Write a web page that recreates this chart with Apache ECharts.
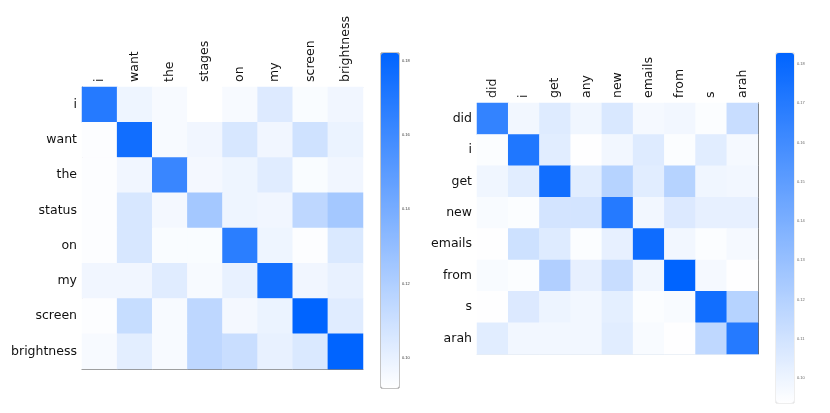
<!DOCTYPE html>
<html>
<head>
<meta charset="utf-8">
<script src="https://cdn.jsdelivr.net/npm/echarts@6/dist/echarts.min.js"></script>
<style>
html,body{margin:0;padding:0;background:#fff;}
#chart{width:830px;height:413px;}
</style>
</head>
<body>
<div id="chart"></div>
<script>
// left sentence: columns / rows
var left_cols = ['i','want','the','stages','on','my','screen','brightness'];
var left_rows = ['i','want','the','status','on','my','screen','brightness'];
var left_values = [
	[0.169,0.098,0.095,0.092,0.095,0.104,0.094,0.097],
	[0.093,0.176,0.095,0.097,0.106,0.097,0.109,0.099],
	[0.093,0.097,0.162,0.096,0.098,0.103,0.094,0.097],
	[0.093,0.106,0.096,0.124,0.098,0.097,0.115,0.124],
	[0.093,0.106,0.094,0.094,0.167,0.098,0.093,0.105],
	[0.097,0.097,0.103,0.095,0.100,0.175,0.097,0.100],
	[0.093,0.112,0.095,0.115,0.096,0.099,0.182,0.103],
	[0.095,0.102,0.095,0.115,0.111,0.100,0.105,0.182]
];
var left_range = [0.092,0.182];
var left_ticks = [0.10,0.12,0.14,0.16,0.18];

// right sentence
var right_cols = ['did','i','get','any','new','emails','from','s','arah'];
var right_rows = ['did','i','get','new','emails','from','s','arah'];
var right_values = [
	[0.165,0.098,0.105,0.099,0.107,0.097,0.098,0.095,0.113],
	[0.095,0.172,0.104,0.094,0.098,0.105,0.095,0.104,0.097],
	[0.099,0.104,0.177,0.104,0.119,0.104,0.119,0.099,0.098],
	[0.096,0.095,0.109,0.109,0.170,0.098,0.106,0.102,0.102],
	[0.094,0.111,0.105,0.095,0.102,0.178,0.098,0.095,0.097],
	[0.096,0.095,0.121,0.102,0.113,0.099,0.183,0.097,0.094],
	[0.094,0.106,0.100,0.098,0.103,0.095,0.096,0.177,0.119],
	[0.104,0.098,0.098,0.098,0.104,0.096,0.094,0.116,0.170]
];
var right_range = [0.0936,0.1828];
var right_ticks = [0.10,0.11,0.12,0.13,0.14,0.15,0.16,0.17,0.18];

var font = 'DejaVu Sans';
var blues = ['#ffffff','#0064ff'];

function to_cells(m){
	var out = [];
	for (var r = 0; r < m.length; r++) {
		for (var c = 0; c < m[r].length; c++) {
			out.push([c, r, m[r][c]]);
		}
	}
	return out;
}

var myChart = echarts.init(document.getElementById('chart'));

var option = {
	animation:false,
	grid:[
		{left:82, top:87, width:281, height:282},
		{left:381, top:53, width:18, height:335, show:true, borderColor:'#888', borderWidth:1},
		{left:477, top:103, width:281, height:251},
		{left:776, top:53, width:18, height:350, show:true, borderColor:'#ddd', borderWidth:1}
	],
	xAxis:[
		{ gridIndex:0, type:'category', position:'top', data:left_cols,
		  axisLine:{lineStyle:{color:'#e3eaf3'}},
		  axisTick:{alignWithLabel:true, length:3, lineStyle:{color:'#999'}},
		  axisLabel:{rotate:-90, fontSize:12.5, color:'#111', fontFamily:font, margin:5, interval:0},
		  splitLine:{show:false} },
		{ gridIndex:0, type:'category', position:'bottom', data:left_cols,
		  axisLine:{lineStyle:{color:'#808080'}}, axisTick:{show:false}, axisLabel:{show:false} },
		{ gridIndex:1, type:'value', show:false },
		{ gridIndex:2, type:'category', position:'top', data:right_cols,
		  axisLine:{lineStyle:{color:'#eef2f8'}},
		  axisTick:{alignWithLabel:true, length:3, lineStyle:{color:'#999'}},
		  axisLabel:{rotate:-90, fontSize:12.5, color:'#111', fontFamily:font, margin:5, interval:0},
		  splitLine:{show:false} },
		{ gridIndex:2, type:'category', position:'bottom', data:right_cols,
		  axisLine:{lineStyle:{color:'#e6ecf5'}}, axisTick:{show:false}, axisLabel:{show:false} },
		{ gridIndex:3, type:'value', show:false }
	],
	yAxis:[
		{ gridIndex:0, type:'category', inverse:true, data:left_rows,
		  axisLine:{lineStyle:{color:'#808080'}},
		  axisTick:{alignWithLabel:true, length:3, lineStyle:{color:'#808080'}},
		  axisLabel:{fontSize:12.5, color:'#111', fontFamily:font, margin:5, interval:0} },
		{ gridIndex:1, type:'value', position:'right', min:left_range[0], max:left_range[1],
		  splitLine:{show:false}, axisLine:{show:false},
		  axisTick:{show:true, length:2, lineStyle:{color:'#666'}, customValues:left_ticks},
		  axisLabel:{fontSize:4, color:'#333', margin:3, customValues:left_ticks,
		             formatter:function(v){ return v.toFixed(2); }} },
		{ gridIndex:2, type:'category', inverse:true, data:right_rows,
		  axisLine:{show:false},
		  axisTick:{alignWithLabel:true, length:3, lineStyle:{color:'#808080'}},
		  axisLabel:{fontSize:12.5, color:'#111', fontFamily:font, margin:5, interval:0} },
		{ gridIndex:3, type:'value', position:'right', min:right_range[0], max:right_range[1],
		  splitLine:{show:false}, axisLine:{show:false},
		  axisTick:{show:true, length:2, lineStyle:{color:'#999'}, customValues:right_ticks},
		  axisLabel:{fontSize:4, color:'#666', margin:3, customValues:right_ticks,
		             formatter:function(v){ return v.toFixed(2); }} },
		{ gridIndex:2, type:'category', position:'right', inverse:true, data:right_rows,
		  axisLine:{lineStyle:{color:'#666'}}, axisTick:{show:false}, axisLabel:{show:false} }
	],
	visualMap:[
		{ type:'continuous', seriesIndex:0, min:left_range[0], max:left_range[1],
		  inRange:{color:blues}, calculable:false, hoverLink:false, text:['',''],
		  orient:'vertical', left:381, top:53, itemWidth:18, itemHeight:335, padding:0 },
		{ type:'continuous', seriesIndex:1, min:right_range[0], max:right_range[1],
		  inRange:{color:blues}, calculable:false, hoverLink:false, text:['',''],
		  orient:'vertical', left:776, top:53, itemWidth:18, itemHeight:350, padding:0 }
	],
	series:[
		{ type:'heatmap', xAxisIndex:0, yAxisIndex:0, data:to_cells(left_values),
		  itemStyle:{borderWidth:0}, emphasis:{disabled:true} },
		{ type:'heatmap', xAxisIndex:3, yAxisIndex:2, data:to_cells(right_values),
		  itemStyle:{borderWidth:0}, emphasis:{disabled:true} }
	]
};

myChart.setOption(option);
</script>
</body>
</html>
